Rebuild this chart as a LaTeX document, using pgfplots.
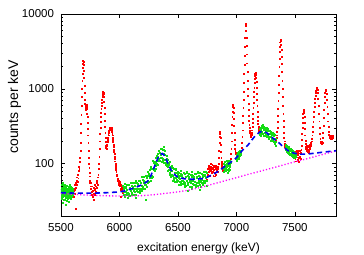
\documentclass[border=0pt]{standalone}
\usepackage{pgfplots}
\pgfplotsset{compat=1.18}
\usepackage{fontspec}
\setmainfont{Liberation Sans}
\definecolor{gpred}{RGB}{255,0,0}
\definecolor{gpgreen}{RGB}{20,220,20}
\definecolor{gpblue}{RGB}{0,0,240}
\definecolor{gpmag}{RGB}{255,0,255}
\begin{document}
\fontsize{11.5bp}{13bp}\selectfont
\begin{tikzpicture}
\path[use as bounding box] (-61bp,-39bp) rectangle (303bp,216bp);
\begin{axis}[
  at={(0,0)}, anchor=south west,
  scale only axis, width=275bp, height=202bp,
  xmin=5500, xmax=7852, ymin=20, ymax=10000,
  ymode=log,
  xtick={5500,6000,6500,7000,7500},
  xticklabels={5500,6000,6500,7000,7500},
  ytick={100,1000,10000},
  yticklabels={100,1000,10000},
  minor ytick={20,30,40,50,60,70,80,90,200,300,400,500,600,700,800,900,2000,3000,4000,5000,6000,7000,8000,9000},
  tick align=inside,
  xtick pos=both, ytick pos=both,
  xticklabel pos=lower, yticklabel pos=left,
  major tick length=4bp, minor tick length=2bp,
  every tick/.style={black, line width=0.6bp},
  axis line style={line width=0.7bp},
  xticklabel style={yshift=-3bp},
  yticklabel style={xshift=-3bp},
  xlabel={excitation energy (keV)},
  ylabel={counts per keV},
  xlabel style={at={(axis description cs:0.5,-0.158)}, anchor=center, font=\fontsize{12bp}{14bp}\selectfont},
  ylabel style={at={(axis description cs:-0.169,0.54)}, anchor=center, font=\fontsize{14bp}{16bp}\selectfont},
  clip=true, clip marker paths=true,
]
% measured spectrum (red)
\addplot[only marks, mark=square*, mark size=0.45bp, gpred, mark options={draw=none, fill=gpred}] table {
x y
5605 44
5608 36
5611 47
5614 40
5617 52
5620 45
5623 25
5626 55
5629 48
5632 60
5635 52
5638 66
5641 58
5644 72
5647 64
5650 80
5653 90
5656 85
5659 105
5662 120
5665 150
5667 190
5669 260
5671 340
5673 450
5675 600
5677 780
5679 1000
5681 1300
5683 1600
5685 1900
5687 2150
5689 2350
5691 2300
5693 2100
5695 1750
5697 1400
5699 1100
5701 880
5703 720
5705 630
5707 560
5709 520
5711 540
5713 590
5715 610
5717 580
5719 620
5721 540
5723 470
5725 420
5727 350
5729 290
5731 240
5733 190
5735 150
5737 120
5739 100
5741 88
5743 75
5745 68
5747 60
5749 56
5752 50
5755 46
5758 55
5761 42
5764 38
5767 50
5770 44
5773 36
5776 48
5779 40
5782 33
5785 52
5788 45
5791 38
5794 50
5797 42
5800 47
5803 55
5806 48
5809 60
5812 52
5815 66
5818 72
5821 85
5824 100
5827 125
5830 160
5832 200
5834 250
5836 300
5838 360
5840 420
5842 480
5844 540
5846 600
5848 660
5850 720
5852 780
5854 830
5856 880
5858 910
5860 930
5862 900
5864 850
5866 780
5868 680
5870 560
5872 460
5874 380
5876 310
5878 260
5880 220
5882 195
5884 175
5886 165
5888 172
5890 160
5892 180
5894 195
5896 205
5898 195
5900 225
5902 210
5904 245
5906 260
5908 240
5910 275
5912 265
5914 290
5916 300
5918 280
5920 305
5922 295
5924 285
5926 295
5928 280
5930 300
5932 285
5934 275
5936 265
5938 250
5940 240
5942 225
5944 210
5946 195
5948 180
5950 168
5952 155
5954 145
5956 135
5958 125
5960 115
5962 108
5964 100
5966 94
5968 88
5970 82
5972 78
5975 72
5978 68
5981 64
5984 60
5987 63
5990 56
5993 60
5996 53
5999 57
6002 50
6005 54
6008 47
6011 52
6012 36
6014 45
6017 49
6020 43
6023 47
6026 41
6029 46
6745 62
6748 75
6751 68
6754 85
6757 72
6760 90
6763 78
6766 95
6769 82
6772 70
6775 88
6778 100
6781 80
6784 92
6787 75
6790 85
6793 98
6796 78
6799 88
6802 70
6805 95
6808 82
6811 76
6814 90
6817 68
6820 85
6823 95
6826 72
6829 88
6832 80
6835 92
6838 78
6841 90
6844 85
6847 100
6850 120
6852 150
6854 190
6856 230
6858 255
6860 265
6862 250
6864 220
6866 180
6868 145
6870 120
6872 105
6874 95
6876 88
6878 100
6880 85
6883 92
6886 80
6945 95
6948 105
6951 115
6954 135
6956 160
6958 200
6960 260
6962 330
6964 420
6966 500
6968 570
6970 610
6972 600
6974 560
6976 480
6978 400
6980 320
6982 260
6984 210
6986 180
6988 160
6990 150
6993 140
6996 135
7038 140
7041 150
7044 165
7047 190
7050 230
7052 280
7054 350
7056 440
7058 560
7060 720
7062 920
7064 1200
7066 1600
7068 2100
7070 2800
7072 3700
7074 4800
7076 6000
7078 7200
7080 7500
7082 7000
7084 6000
7086 4800
7088 3800
7090 2900
7092 2200
7094 1700
7096 1300
7098 1000
7100 800
7102 640
7104 520
7106 440
7108 380
7110 330
7112 300
7114 275
7116 260
7118 250
7120 240
7122 235
7124 245
7126 230
7128 250
7130 240
7132 260
7134 280
7136 310
7138 350
7140 400
7142 470
7144 560
7146 660
7148 780
7150 920
7152 1050
7154 1200
7156 1350
7158 1480
7160 1580
7162 1650
7164 1640
7166 1560
7168 1420
7170 1250
7172 1050
7174 870
7176 720
7178 600
7180 500
7182 430
7184 380
7186 340
7188 310
7190 290
7192 280
7194 275
7196 270
7336 210
7339 215
7342 225
7345 240
7348 270
7350 300
7352 360
7354 440
7356 550
7358 700
7360 900
7362 1150
7364 1500
7366 1950
7368 2500
7370 3100
7372 3700
7374 4200
7376 4550
7378 4600
7380 4400
7382 3900
7384 3300
7386 2700
7388 2150
7390 1700
7392 1300
7394 1000
7396 780
7398 600
7400 470
7402 380
7404 310
7406 260
7408 225
7410 200
7412 185
7414 175
7416 170
7500 130
7503 118
7506 145
7509 108
7512 135
7515 150
7518 122
7521 140
7524 112
7527 132
7530 148
7533 120
7536 105
7539 138
7542 125
7545 150
7548 118
7551 140
7554 155
7557 175
7560 210
7562 250
7564 300
7566 350
7568 410
7570 460
7572 500
7574 525
7576 530
7578 520
7580 480
7582 420
7584 350
7586 290
7588 240
7590 205
7592 185
7594 170
7596 160
7598 175
7600 150
7603 165
7606 145
7609 170
7612 155
7615 140
7618 175
7621 150
7624 165
7627 180
7630 160
7633 175
7636 190
7639 180
7642 200
7645 215
7648 240
7651 270
7654 310
7657 360
7660 420
7663 490
7666 570
7669 650
7672 730
7675 810
7678 880
7681 950
7684 1010
7687 1050
7690 1040
7693 980
7696 880
7699 740
7702 600
7705 470
7708 370
7711 300
7714 250
7717 215
7720 200
7723 190
7726 195
7729 185
7732 200
7735 190
7738 220
7741 260
7744 320
7747 410
7750 520
7753 650
7756 780
7759 880
7762 950
7765 970
7768 940
7771 850
7774 720
7777 580
7780 460
7783 370
7786 310
7789 270
7792 245
7795 230
7798 240
7801 225
7804 235
7807 215
7810 240
7813 220
7816 230
7819 215
7822 235
7825 220
7828 228
};
% fitted regions (green)
\addplot[only marks, mark=square*, mark size=0.5bp, gpgreen, mark options={draw=none, fill=gpgreen}] table {
x y
5500 45
5502 38
5504 52
5506 34
5508 47
5510 40
5512 55
5514 36
5516 44
5518 30
5520 49
5522 41
5524 37
5526 53
5528 43
5530 33
5532 46
5534 39
5536 50
5538 35
5540 42
5542 28
5544 48
5546 38
5548 44
5550 36
5552 51
5554 40
5556 34
5558 46
5560 42
5562 37
5564 49
5566 31
5568 45
5570 40
5572 53
5574 36
5576 43
5578 38
5580 47
5582 34
5584 41
5586 50
5588 39
5590 44
5592 36
5594 48
5596 42
5598 38
5600 45
5602 40
5501 42
5505 48
5509 36
5513 44
5517 39
5521 33
5525 46
5529 40
5533 52
5537 43
5541 37
5545 45
5549 41
5553 32
5557 47
5561 39
5565 43
5569 35
5573 41
5577 48
5581 40
5585 36
5589 42
5593 38
5597 46
6030 51
6034 38
6038 46
6042 36
6046 54
6050 42
6054 49
6058 38
6062 45
6066 53
6070 41
6074 35
6078 52
6082 40
6086 48
6090 37
6094 56
6098 43
6102 51
6106 39
6110 47
6114 56
6118 43
6122 38
6126 56
6130 42
6134 51
6138 39
6142 60
6146 46
6150 55
6154 42
6158 51
6162 60
6166 46
6170 41
6174 60
6178 46
6182 56
6186 43
6190 66
6194 51
6198 61
6202 47
6206 56
6210 67
6214 52
6218 46
6222 69
6226 53
6230 65
6234 50
6238 77
6242 60
6246 73
6250 57
6254 70
6258 84
6262 66
6266 59
6270 90
6274 70
6278 87
6282 68
6286 108
6290 85
6294 103
6298 81
6302 100
6306 121
6310 95
6314 85
6318 129
6322 100
6326 124
6330 97
6334 151
6338 118
6342 142
6346 110
6350 133
6354 160
6358 122
6362 105
6366 155
6370 117
6374 138
6378 103
6382 154
6386 114
6390 131
6394 97
6398 112
6402 128
6406 95
6410 80
6414 114
6418 83
6422 97
6426 72
6430 107
6434 80
6438 92
6442 68
6446 80
6450 93
6454 69
6458 59
6462 86
6466 64
6470 76
6474 57
6478 86
6482 65
6486 76
6490 58
6494 68
6498 79
6502 60
6506 52
6510 76
6514 58
6518 69
6522 52
6526 80
6530 60
6534 71
6538 54
6542 65
6546 76
6550 58
6554 50
6558 74
6562 56
6566 67
6570 51
6574 78
6578 59
6582 70
6586 53
6590 63
6594 74
6598 57
6602 49
6606 72
6610 55
6614 66
6618 50
6622 77
6626 59
6630 69
6634 53
6638 63
6642 74
6646 57
6650 49
6654 73
6658 55
6662 66
6666 51
6670 77
6674 59
6678 70
6682 53
6686 64
6690 75
6694 58
6698 50
6702 74
6706 56
6710 68
6714 52
6718 79
6722 60
6726 72
6730 55
6734 65
6738 77
6742 59
6746 51
6032 42
6040 50
6048 38
6056 48
6064 41
6072 53
6080 37
6088 47
6096 56
6104 41
6112 50
6120 47
6128 46
6136 55
6144 43
6152 54
6160 46
6168 60
6176 43
6184 55
6192 66
6200 49
6208 60
6216 57
6224 57
6232 70
6240 55
6248 73
6256 64
6264 86
6272 65
6280 87
6288 108
6296 84
6304 107
6312 104
6320 108
6328 134
6336 108
6344 140
6352 122
6360 157
6368 110
6376 134
6384 150
6392 103
6400 117
6408 100
6416 92
6424 103
6432 75
6440 89
6448 72
6456 89
6464 61
6472 74
6480 84
6488 61
6496 72
6504 65
6512 63
6520 73
6528 56
6536 70
6544 59
6552 75
6560 52
6568 66
6576 76
6584 56
6592 67
6600 61
6608 60
6616 71
6624 54
6632 68
6640 57
6648 73
6656 52
6664 65
6672 76
6680 56
6688 68
6696 62
6704 61
6712 72
6720 56
6728 70
6736 60
6744 76
6140 35
6225 33
6380 168
6580 44
6620 46
6690 45
6888 85
6891 100
6894 78
6897 95
6900 88
6903 105
6906 80
6909 96
6912 90
6915 110
6918 84
6921 99
6924 76
6927 93
6930 102
6933 87
6936 108
6939 92
6942 98
6945 84
6948 104
6890 92
6896 82
6902 97
6908 86
6914 100
6920 92
6926 105
6932 81
6938 97
6944 110
6998 115
7001 132
7004 120
7007 140
7010 118
7013 135
7016 125
7019 145
7022 122
7025 138
7028 128
7031 150
7034 132
7037 142
7000 125
7006 110
7012 128
7018 135
7024 117
7030 140
7036 147
7198 295
7202 245
7206 286
7210 239
7214 320
7218 270
7222 305
7226 250
7230 283
7234 315
7238 258
7242 234
7246 304
7250 246
7254 281
7258 230
7262 301
7266 247
7270 275
7274 224
7278 251
7282 279
7286 226
7290 204
7294 264
7298 213
7302 244
7306 200
7310 261
7314 215
7318 239
7322 194
7326 218
7330 241
7334 195
7338 176
7200 259
7208 299
7216 255
7224 328
7232 240
7240 286
7248 264
7256 289
7264 236
7272 293
7280 213
7288 250
7296 229
7304 252
7312 205
7320 255
7328 184
7336 215
7418 178
7421 160
7424 172
7427 148
7430 165
7433 175
7436 150
7439 162
7442 140
7445 158
7448 168
7451 138
7454 150
7457 160
7460 132
7463 148
7466 155
7469 128
7472 145
7475 152
7478 125
7481 140
7484 148
7487 122
7490 138
7493 145
7496 120
7499 136
7502 142
7505 125
7508 134
7511 128
7420 152
7426 168
7432 145
7438 170
7444 150
7450 142
7456 135
7462 158
7468 138
7474 130
7480 150
7486 132
7492 127
7498 140
};
% background (magenta dotted)
\addplot[gpmag, line width=1.3bp, dash pattern=on 1.2bp off 2bp, mark=none] table {
x y
5500 40
5600 39
5700 38.2
5800 37.6
5900 37.2
6000 37
6100 37
6200 37.5
6300 38.6
6400 40.2
6500 42
6600 44.5
6700 48.5
6800 53.5
6900 59
7000 65
7100 72
7200 79
7300 87
7400 96
7500 106
7600 116
7700 128
7800 141
7852 148
};
% total fit (blue dashed)
\addplot[gpblue, line width=1.6bp, dash pattern=on 5bp off 3.5bp, mark=none] table {
x y
5500 41
5600 40.5
5700 40.5
5800 40.5
5900 41
6000 42
6050 43.5
6100 46
6150 49
6200 53
6240 58
6270 70
6300 92
6330 120
6350 133
6365 137
6380 131
6400 114
6420 96
6440 83
6460 75
6480 69.5
6500 66
6550 63
6600 62
6650 62
6700 63
6750 66
6800 72
6850 80
6900 92
6950 104
7000 120
7050 150
7100 178
7150 225
7200 266
7230 270
7260 258
7300 228
7350 196
7372 186
7400 168
7450 146
7500 137
7550 134
7600 134
7650 137
7700 140
7750 143
7800 146
7852 149
};
\end{axis}
\end{tikzpicture}
\end{document}
